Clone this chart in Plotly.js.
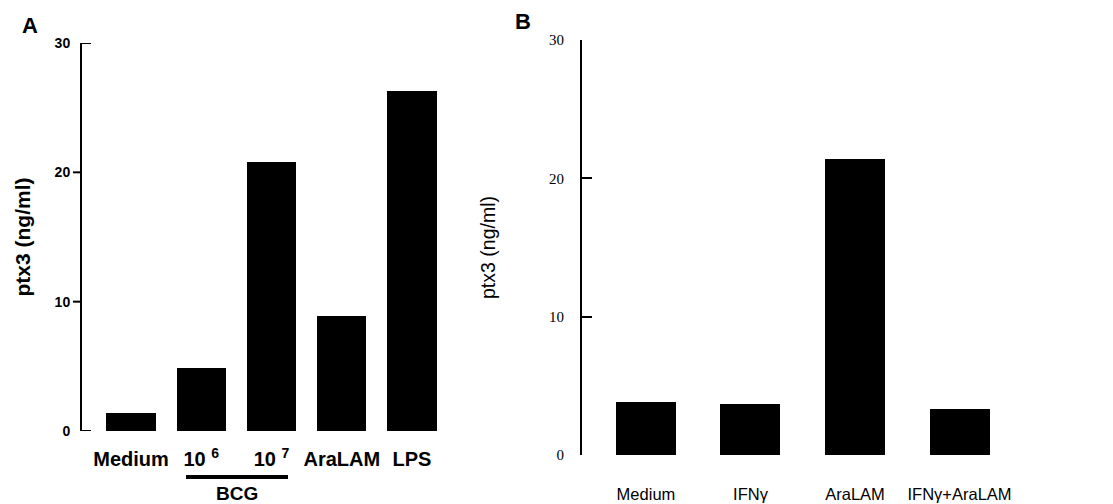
<!DOCTYPE html>
<html>
<head>
<meta charset="utf-8">
<script src="https://cdn.plot.ly/plotly-3.0.1.min.js"></script>
<style>html,body{margin:0;padding:0;background:#fff;}#chart{width:1113px;height:504px;}</style>
</head>
<body>
<div id="chart"></div>
<script>
// Panel A data
const catsA = ["Medium", "10 <sup>6</sup>", "10 <sup>7</sup>", "AraLAM", "LPS"];
const valsA = [1.4, 4.9, 20.8, 8.9, 26.3];
// Panel B data
const catsB = ["Medium", "IFNγ", "AraLAM", "IFNγ+AraLAM"];
const valsB = [3.8, 3.7, 21.4, 3.3];
const yTicks = [0, 10, 20, 30];
const yTickText = ["0", "10", "20", "30"];
const yTitle = "ptx3 (ng/ml)";
const groupLabel = "BCG";

const W = 1113, H = 504;
const px = v => v / W;
const py = v => (H - v) / H;

const traces = [
  {type: 'bar', x: catsA, y: valsA, xaxis: 'x', yaxis: 'y', width: 0.70,
   marker: {color: '#000', line: {width: 0}}, hoverinfo: 'skip'},
  {type: 'bar', x: catsB, y: valsB, xaxis: 'x2', yaxis: 'y2', width: 0.574,
   marker: {color: '#000', line: {width: 0}}, hoverinfo: 'skip'}
];

const shapes = [];
// Panel A ticks: caps at ends point inward, middle ticks outward
yTicks.forEach(t => {
  const inward = (t === 0 || t === 30);
  shapes.push({type: 'line', xref: 'paper', yref: 'y',
    x0: px(82), x1: inward ? px(91) : px(73), y0: t, y1: t,
    line: {color: '#000', width: 2}});
});
// BCG bracket line
shapes.push({type: 'line', xref: 'x', yref: 'paper', x0: 0.783, x1: 2.235,
  y0: py(477), y1: py(477), line: {color: '#000', width: 4}});

const boldFont = {family: 'Liberation Sans, Arial, sans-serif', color: '#000', weight: 'bold'};

const layout = {
  width: W, height: H,
  margin: {l: 0, r: 0, t: 0, b: 0},
  paper_bgcolor: '#fff', plot_bgcolor: '#fff',
  showlegend: false,
  bargap: 0,
  xaxis: {
    domain: [px(82), px(460)], type: 'category', range: [-0.6975, 4.683],
    showline: false, showgrid: false, zeroline: false, ticks: '',
    tickfont: Object.assign({size: 20}, boldFont), ticklabelstandoff: 14,
    fixedrange: true
  },
  yaxis: {
    domain: [py(431), py(43)], range: [0, 30],
    showline: true, linecolor: '#000', linewidth: 2,
    showgrid: false, zeroline: false, ticks: '',
    tickvals: yTicks, ticktext: yTickText,
    tickfont: Object.assign({size: 14}, boldFont), ticklabelstandoff: 7,
    title: {text: yTitle, font: Object.assign({size: 21}, boldFont), standoff: 18},
    anchor: 'x', fixedrange: true
  },
  xaxis2: {
    domain: [px(582), px(1010)], type: 'category', range: [-0.612, 3.483],
    anchor: 'y2',
    showline: false, showgrid: false, zeroline: false, ticks: '',
    tickfont: {family: 'Liberation Sans, Arial, sans-serif', size: 16.5, color: '#000'},
    ticklabelstandoff: 27, fixedrange: true
  },
  yaxis2: {
    domain: [py(455), py(40)], range: [0, 30], anchor: 'x2',
    showline: true, linecolor: '#000', linewidth: 2,
    showgrid: false, zeroline: false, ticks: 'inside', ticklen: 10, tickwidth: 2, tickcolor: '#000',
    tickvals: yTicks, ticktext: yTickText,
    tickfont: {family: 'Liberation Serif, Times New Roman, serif', size: 15, color: '#000'},
    ticklabelstandoff: 13,
    title: {text: yTitle, font: {family: 'Liberation Sans, Arial, sans-serif', size: 19.5, color: '#000'}, standoff: 48},
    fixedrange: true
  },
  shapes: shapes,
  annotations: [
    {text: 'A', xref: 'paper', yref: 'paper', x: px(30), y: py(25), showarrow: false,
     xanchor: 'center', yanchor: 'middle', font: Object.assign({size: 22}, boldFont)},
    {text: 'B', xref: 'paper', yref: 'paper', x: px(523), y: py(22), showarrow: false,
     xanchor: 'center', yanchor: 'middle', font: Object.assign({size: 22}, boldFont)},
    {text: groupLabel, xref: 'x', yref: 'paper', x: 1.51, y: py(493), showarrow: false,
     xanchor: 'center', yanchor: 'middle', font: Object.assign({size: 19}, boldFont)}
  ]
};

Plotly.newPlot('chart', traces, layout, {displayModeBar: false, staticPlot: true});
</script>
</body>
</html>
